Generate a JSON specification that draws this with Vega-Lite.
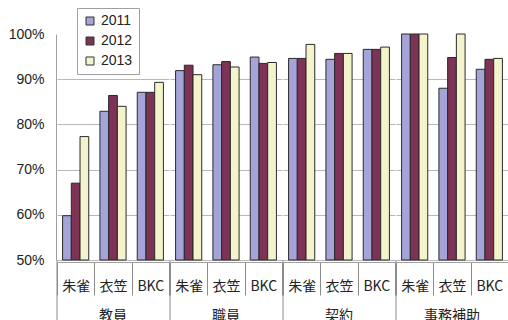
{
  "$schema": "https://vega.github.io/schema/vega-lite/v6.json",
  "padding": {"left": 8, "top": 7, "right": 0, "bottom": 0},
  "background": "white",
  "config": {
    "view": {"stroke": null},
    "font": "Liberation Sans",
    "facet": {"spacing": 0}
  },
  "data": {
    "values": [
      {"group": "教員", "site": "朱雀", "year": "2011", "value": 0.598},
      {"group": "教員", "site": "朱雀", "year": "2012", "value": 0.670},
      {"group": "教員", "site": "朱雀", "year": "2013", "value": 0.773},
      {"group": "教員", "site": "衣笠", "year": "2011", "value": 0.829},
      {"group": "教員", "site": "衣笠", "year": "2012", "value": 0.864},
      {"group": "教員", "site": "衣笠", "year": "2013", "value": 0.840},
      {"group": "教員", "site": "BKC", "year": "2011", "value": 0.871},
      {"group": "教員", "site": "BKC", "year": "2012", "value": 0.871},
      {"group": "教員", "site": "BKC", "year": "2013", "value": 0.893},
      {"group": "職員", "site": "朱雀", "year": "2011", "value": 0.919},
      {"group": "職員", "site": "朱雀", "year": "2012", "value": 0.931},
      {"group": "職員", "site": "朱雀", "year": "2013", "value": 0.910},
      {"group": "職員", "site": "衣笠", "year": "2011", "value": 0.932},
      {"group": "職員", "site": "衣笠", "year": "2012", "value": 0.939},
      {"group": "職員", "site": "衣笠", "year": "2013", "value": 0.927},
      {"group": "職員", "site": "BKC", "year": "2011", "value": 0.949},
      {"group": "職員", "site": "BKC", "year": "2012", "value": 0.935},
      {"group": "職員", "site": "BKC", "year": "2013", "value": 0.937},
      {"group": "契約", "site": "朱雀", "year": "2011", "value": 0.946},
      {"group": "契約", "site": "朱雀", "year": "2012", "value": 0.946},
      {"group": "契約", "site": "朱雀", "year": "2013", "value": 0.977},
      {"group": "契約", "site": "衣笠", "year": "2011", "value": 0.944},
      {"group": "契約", "site": "衣笠", "year": "2012", "value": 0.957},
      {"group": "契約", "site": "衣笠", "year": "2013", "value": 0.957},
      {"group": "契約", "site": "BKC", "year": "2011", "value": 0.966},
      {"group": "契約", "site": "BKC", "year": "2012", "value": 0.966},
      {"group": "契約", "site": "BKC", "year": "2013", "value": 0.971},
      {"group": "事務補助", "site": "朱雀", "year": "2011", "value": 1.0},
      {"group": "事務補助", "site": "朱雀", "year": "2012", "value": 1.0},
      {"group": "事務補助", "site": "朱雀", "year": "2013", "value": 1.0},
      {"group": "事務補助", "site": "衣笠", "year": "2011", "value": 0.880},
      {"group": "事務補助", "site": "衣笠", "year": "2012", "value": 0.948},
      {"group": "事務補助", "site": "衣笠", "year": "2013", "value": 1.0},
      {"group": "事務補助", "site": "BKC", "year": "2011", "value": 0.922},
      {"group": "事務補助", "site": "BKC", "year": "2012", "value": 0.944},
      {"group": "事務補助", "site": "BKC", "year": "2013", "value": 0.946}
    ]
  },
  "spacing": 0,
  "facet": {
    "column": {
      "field": "group",
      "type": "nominal",
      "sort": ["教員", "職員", "契約", "事務補助"],
      "title": null,
      "header": {
        "labelOrient": "bottom",
        "labelFont": "Noto Sans CJK JP",
        "labelFontSize": 14,
        "labelColor": "#222",
        "labelPadding": -15
      }
    }
  },
  "spec": {
    "width": 112,
    "height": 226,
    "encoding": {
      "x": {
        "field": "site",
        "type": "nominal",
        "sort": ["朱雀", "衣笠", "BKC"],
        "scale": {"paddingInner": 0, "paddingOuter": 0},
        "axis": {
          "title": null,
          "offset": -62,
          "labelAngle": 0,
          "labelFont": "Noto Sans CJK JP",
          "labelFontSize": 14,
          "labelColor": "#222",
          "labelPadding": -16,
          "domainColor": "#a0a0a0",
          "tickColor": "#8c8c8c",
          "tickWidth": 1,
          "tickBand": "extent",
          "tickSize": 33
        }
      }
    },
    "layer": [
      {
        "mark": {"type": "bar", "stroke": "#2a2a2a", "strokeWidth": 1},
        "encoding": {
          "xOffset": {
            "field": "year",
            "type": "nominal",
            "scale": {"paddingInner": 0, "paddingOuter": 0.64}
          },
          "y": {
            "field": "value",
            "type": "quantitative",
            "scale": {"domain": [0.5, 1], "nice": false},
            "axis": {
              "title": null,
              "format": ".0%",
              "values": [0.5, 0.6, 0.7, 0.8, 0.9, 1.0],
              "labelFontSize": 14,
              "labelColor": "#222",
              "labelPadding": 12,
              "ticks": false,
              "domainColor": "#a0a0a0",
              "gridColor": {"condition": {"test": "datum.value >= 0.999", "value": "transparent"}, "value": "#b8b8b8"}
            }
          },
          "y2": {"datum": 0.5},
          "color": {
            "field": "year",
            "type": "nominal",
            "scale": {"domain": ["2011", "2012", "2013"], "range": ["#a4a4d8", "#7d3355", "#f4f4cc"]},
            "legend": {
              "title": null,
              "orient": "none",
              "legendX": 20,
              "legendY": -26,
              "symbolType": "square",
              "symbolSize": 64,
              "symbolStrokeColor": "#333",
              "symbolStrokeWidth": 1,
              "labelFontSize": 14,
              "labelColor": "#222",
              "rowPadding": 6,
              "padding": 6,
              "fillColor": "white",
              "strokeColor": "#a0a0a0"
            }
          }
        }
      },
      {
        "transform": [{"filter": "datum.site === '朱雀' && datum.year === '2011'"}],
        "mark": {"type": "rule", "color": "#8c8c8c", "strokeWidth": 1},
        "encoding": {
          "x": {"field": "site", "type": "nominal", "sort": ["朱雀", "衣笠", "BKC"], "bandPosition": 0},
          "y": {"datum": 0.5},
          "y2": {"datum": 0.36}
        }
      }
    ]
  }
}
